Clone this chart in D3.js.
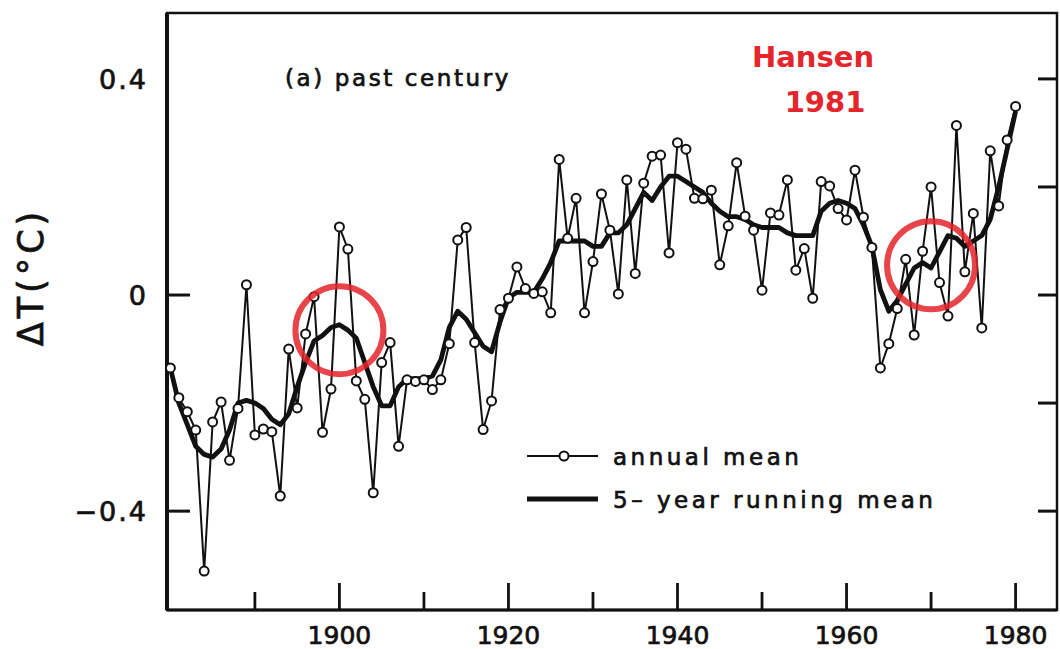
<!DOCTYPE html>
<html>
<head>
<meta charset="utf-8">
<script src="https://cdn.jsdelivr.net/npm/d3@7"></script>
<style>
  html, body { margin: 0; padding: 0; background: #fff; }
  svg { display: block; }
</style>
</head>
<body>
<div id="app"></div>
<script>
// years 1880..1980
const years = d3.range(1880, 1981);

// annual mean temperature anomaly
const annualMean = [
  -0.135, -0.19, -0.216, -0.25, -0.511, -0.235, -0.198, -0.306, -0.21, 0.019,
  -0.259, -0.248, -0.253, -0.372, -0.1, -0.209, -0.072, -0.003, -0.254, -0.174,
  0.126, 0.085, -0.159, -0.193, -0.366, -0.125, -0.088, -0.28, -0.157, -0.16,
  -0.157, -0.175, -0.157, -0.09, 0.102, 0.125, -0.088, -0.249, -0.196, -0.027,
  -0.006, 0.052, 0.012, 0.003, 0.006, -0.033, 0.251, 0.105, 0.179, -0.033,
  0.062, 0.187, 0.12, 0.002, 0.213, 0.04, 0.207, 0.257, 0.259, 0.078,
  0.282, 0.27, 0.179, 0.178, 0.194, 0.056, 0.128, 0.245, 0.146, 0.12,
  0.009, 0.152, 0.148, 0.213, 0.046, 0.086, -0.006, 0.21, 0.202, 0.16,
  0.139, 0.231, 0.144, 0.088, -0.135, -0.09, -0.025, 0.066, -0.074, 0.081,
  0.2, 0.023, -0.039, 0.314, 0.043, 0.151, -0.061, 0.267, 0.165, 0.287,
  0.349,
];

// 5-year running mean
const runningMean = [
  -0.135, -0.2, -0.24, -0.28, -0.295, -0.3, -0.285, -0.25, -0.2, -0.195,
  -0.2, -0.21, -0.23, -0.24, -0.22, -0.17, -0.125, -0.085, -0.075, -0.06,
  -0.055, -0.065, -0.08, -0.125, -0.17, -0.205, -0.205, -0.17, -0.155, -0.155,
  -0.155, -0.15, -0.12, -0.06, -0.03, -0.045, -0.07, -0.095, -0.105, -0.05,
  -0.005, 0.005, 0.005, 0.005, 0.03, 0.06, 0.1, 0.1, 0.1, 0.1,
  0.09, 0.09, 0.115, 0.115, 0.13, 0.16, 0.19, 0.175, 0.2, 0.22,
  0.22, 0.21, 0.2, 0.19, 0.17, 0.155, 0.145, 0.145, 0.14, 0.13,
  0.125, 0.125, 0.125, 0.115, 0.11, 0.11, 0.11, 0.155, 0.17, 0.175,
  0.17, 0.16, 0.13, 0.09, 0.01, -0.03, -0.01, 0.02, 0.05, 0.06,
  0.05, 0.08, 0.11, 0.105, 0.09, 0.1, 0.11, 0.14, 0.2, 0.27,
  0.34,
];

const xTickYears = [1890, 1900, 1910, 1920, 1930, 1940, 1950, 1960, 1970, 1980];
const xLabelYears = [1900, 1920, 1940, 1960, 1980];
const yTickValues = [0.4, 0, -0.4];
const yTickLabels = ['0.4', '0', '\u22120.4'];
const rightTicks = [0.4, 0.2, 0, -0.2, -0.4];

// highlighted spots [year, value]
const highlights = [[1900, -0.065], [1970, 0.055]];

const width = 1060;
const height = 649;
const margin = {
  top: 13, right: 3, bottom: 39, left: 167,
};
const ink = '#111';
const red = '#e4252c';
const textFont = '"DejaVu Sans", sans-serif';

const svg = d3.select('#app')
  .append('svg')
  .attr('width', width)
  .attr('height', height)
  .style('background', '#fff');

const xScale = d3.scaleLinear()
  .domain([1879.6, 1984.9])
  .range([margin.left, width - margin.right]);

const yScale = d3.scaleLinear()
  .domain([-0.583, 0.522])
  .range([height - margin.bottom, margin.top]);

const x0 = xScale.range()[0];
const x1 = xScale.range()[1];
const yTop = yScale.range()[1];
const yBot = yScale.range()[0];

// makes the printed lettering a bit heavier
function inkText(sel) {
  sel
    .attr('fill', ink)
    .attr('stroke', ink)
    .attr('stroke-width', 0.7);
}

// frame
svg.append('rect')
  .attr('x', x0)
  .attr('y', yTop)
  .attr('width', x1 - x0)
  .attr('height', yBot - yTop)
  .attr('fill', 'none')
  .attr('stroke', ink)
  .attr('stroke-width', 2.5);
svg.append('line')
  .attr('x1', x0).attr('x2', x0)
  .attr('y1', yTop).attr('y2', yBot)
  .attr('stroke', ink)
  .attr('stroke-width', 4);
svg.append('line')
  .attr('x1', x0).attr('x2', x1)
  .attr('y1', yBot).attr('y2', yBot)
  .attr('stroke', ink)
  .attr('stroke-width', 3.2);

// bottom ticks (inward)
svg.append('g')
  .selectAll('line')
  .data(xTickYears)
  .join('line')
  .attr('x1', d => xScale(d))
  .attr('x2', d => xScale(d))
  .attr('y1', yBot)
  .attr('y2', d => yBot - (d % 20 === 0 ? 27 : 18))
  .attr('stroke', ink)
  .attr('stroke-width', 2.8);

svg.append('g')
  .selectAll('text')
  .data(xLabelYears)
  .join('text')
  .attr('x', d => xScale(d))
  .attr('y', 644)
  .attr('text-anchor', 'middle')
  .attr('font-family', textFont)
  .attr('font-size', 25)
  .call(inkText)
  .text(d => d);

// left ticks
svg.append('g')
  .selectAll('line')
  .data([0, -0.4])
  .join('line')
  .attr('x1', x0)
  .attr('x2', x0 + 23)
  .attr('y1', d => yScale(d))
  .attr('y2', d => yScale(d))
  .attr('stroke', ink)
  .attr('stroke-width', 3);

svg.append('g')
  .selectAll('text')
  .data(yTickValues)
  .join('text')
  .attr('x', 148)
  .attr('y', d => yScale(d))
  .attr('dy', '0.36em')
  .attr('text-anchor', 'end')
  .attr('font-family', textFont)
  .attr('font-size', 27)
  .attr('letter-spacing', 2)
  .call(inkText)
  .text((d, i) => yTickLabels[i]);

// right ticks
svg.append('g')
  .selectAll('line')
  .data(rightTicks)
  .join('line')
  .attr('x1', x1)
  .attr('x2', x1 - 19)
  .attr('y1', d => yScale(d))
  .attr('y2', d => yScale(d))
  .attr('stroke', ink)
  .attr('stroke-width', 3);

// y axis title
svg.append('text')
  .attr('transform', `translate(43,${yScale(0) - 18}) rotate(-90)`)
  .attr('text-anchor', 'middle')
  .attr('font-family', textFont)
  .attr('font-size', 35)
  .attr('letter-spacing', 4)
  .call(inkText)
  .text('\u0394T(\u00B0C)');

// panel title
svg.append('text')
  .attr('x', 285)
  .attr('y', 86)
  .attr('font-family', textFont)
  .attr('font-size', 23)
  .attr('letter-spacing', 2.6)
  .call(inkText)
  .text('(a) past century');

const annualData = years.map((yr, i) => ({ year: yr, value: annualMean[i] }));
const runningData = years.map((yr, i) => ({ year: yr, value: runningMean[i] }));

const line = d3.line()
  .x(d => xScale(d.year))
  .y(d => yScale(d.value));

// 5-year running mean
svg.append('path')
  .datum(runningData)
  .attr('d', line)
  .attr('fill', 'none')
  .attr('stroke', ink)
  .attr('stroke-width', 4.8)
  .attr('stroke-linejoin', 'round');

// annual mean
svg.append('path')
  .datum(annualData)
  .attr('d', line)
  .attr('fill', 'none')
  .attr('stroke', ink)
  .attr('stroke-width', 2);

svg.append('g')
  .selectAll('circle')
  .data(annualData)
  .join('circle')
  .attr('cx', d => xScale(d.year))
  .attr('cy', d => yScale(d.value))
  .attr('r', 4.5)
  .attr('fill', '#fff')
  .attr('stroke', ink)
  .attr('stroke-width', 2);

// legend
const legend = svg.append('g')
  .attr('font-family', textFont)
  .attr('font-size', 23)
  .attr('letter-spacing', 3.5);

legend.append('line')
  .attr('x1', 527).attr('x2', 598)
  .attr('y1', 456).attr('y2', 456)
  .attr('stroke', ink)
  .attr('stroke-width', 2.2);
legend.append('circle')
  .attr('cx', 564).attr('cy', 456)
  .attr('r', 4.5)
  .attr('fill', '#fff')
  .attr('stroke', ink)
  .attr('stroke-width', 2);
legend.append('text')
  .attr('x', 613).attr('y', 465)
  .call(inkText)
  .text('annual mean');

legend.append('line')
  .attr('x1', 527).attr('x2', 598)
  .attr('y1', 499).attr('y2', 499)
  .attr('stroke', ink)
  .attr('stroke-width', 4.8);
legend.append('text')
  .attr('x', 613).attr('y', 508)
  .call(inkText)
  .text('5\u2013 year running mean');

// red annotation
svg.append('g')
  .selectAll('circle')
  .data(highlights)
  .join('circle')
  .attr('cx', d => xScale(d[0]))
  .attr('cy', d => yScale(d[1]))
  .attr('r', 44)
  .attr('fill', 'none')
  .attr('stroke', red)
  .attr('stroke-opacity', 0.85)
  .attr('stroke-width', 6);

const note = svg.append('text')
  .attr('font-family', textFont)
  .attr('font-weight', 'bold')
  .attr('font-size', 29)
  .attr('fill', red)
  .attr('text-anchor', 'middle');
note.append('tspan').attr('x', 813).attr('y', 67).text('Hansen');
note.append('tspan').attr('x', 825).attr('y', 112).text('1981');
</script>
</body>
</html>
